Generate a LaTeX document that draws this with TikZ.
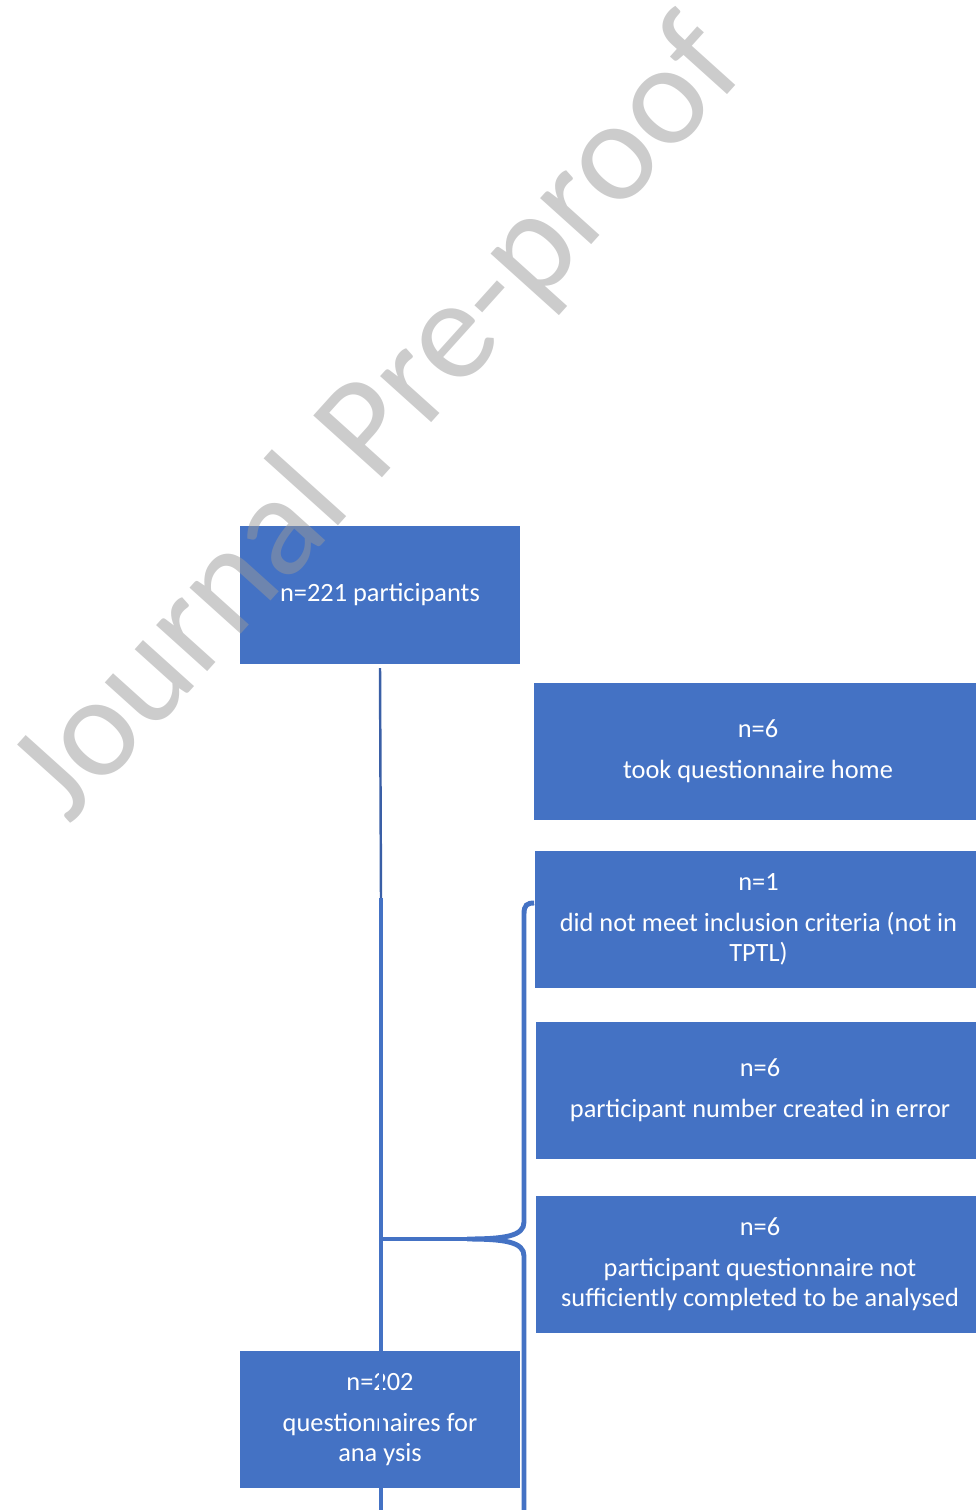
\documentclass[tikz,border=0pt]{standalone}
\usepackage{fontspec}
\setmainfont{Carlito}
\definecolor{boxblue}{HTML}{4472C4}
\definecolor{lineblue}{HTML}{3A5FA6}

\begin{document}
\begin{tikzpicture}[x=0.02cm, y=-0.02cm,
  box/.style={fill=boxblue, text=white, align=center, inner sep=0pt,
    font=\fontsize{15pt}{17pt}\selectfont},
  leftbox/.style={box, minimum width=5.6cm, minimum height=2.75cm},
  rightbox/.style={box, minimum width=8.96cm, minimum height=2.74cm},
  link/.style={draw=boxblue, line width=2.8pt},
  thinlink/.style={draw=lineblue, line width=1.4pt}]
  % x, y in pixels of the page, y pointing down
  \useasboundingbox (0,0) rectangle (975,1510);
  \node[leftbox] (total) at (380,595) {n=221 participants};
  \node[rightbox] (home) at (758,751.5) {n=6\\[6.3pt] took questionnaire home};
  \node[rightbox] (crit) at (758.5,919.5) {n=1\\[6.3pt] did not meet inclusion criteria (not in\\ TPTL)};
  \node[rightbox] (err) at (760,1090.5) {n=6\\[6.3pt] participant number created in error};
  \node[rightbox] (incompl) at (760,1264) {n=6\\[6.3pt] participant questionnaire not\\ sufficiently completed to be analysed};
  \node[leftbox] (final) at (380,1419.5) {n=202\\[6.3pt] questionnaires for\\ analysis};

  \coordinate (split) at (381,898);
  \coordinate (join) at (381,1239);
  \coordinate (tip) at (467,1239);
  \coordinate (bracetop) at (crit.west |- 0,903);
  \coordinate (mainend) at (381,1520);
  \coordinate (braceend) at (524,1520);

  \draw[thinlink] ([yshift=-0.08cm]total.south) -- (split);
  \draw[link] (split) -- (mainend);
  \draw[link] (join) -- (tip);
  \draw[link] (bracetop) .. controls (527,903) and (524,905) .. (524,914)
    -- (524,1222) .. controls (524,1236) and (505,1239) .. (tip)
    .. controls (505,1239) and (524,1242) .. (524,1256) -- (braceend);

  \node[anchor=base, rotate=48, text=black!40, text opacity=0.5,
    font=\fontsize{82pt}{82pt}\selectfont] (mark) at (409,448) {Journal Pre-proof};
\end{tikzpicture}
\end{document}
